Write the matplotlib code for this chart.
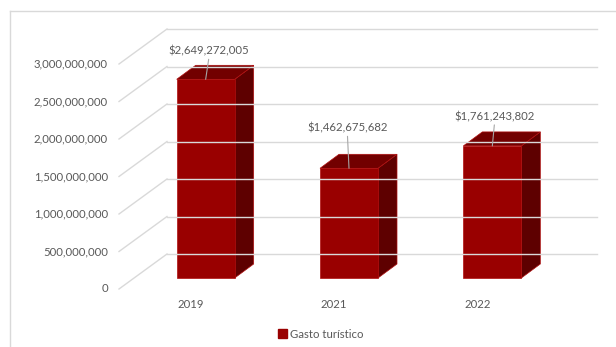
import matplotlib.pyplot as plt
from matplotlib.patches import Rectangle, Polygon
from matplotlib.lines import Line2D
from matplotlib.transforms import offset_copy

# Gasto turístico por año
years = ["2019", "2021", "2022"]
spending = [2649272005, 1462675682, 1761243802]
ticks = [0, 500000000, 1000000000, 1500000000, 2000000000, 2500000000, 3000000000]
series_name = "Gasto turístico"

FRONT = "#990000"
SIDE = "#5e0000"
TOP = "#720000"
EDGE = "#b01010"
GRID = "#d9d9d9"
TEXT = "#595959"

plt.rcParams["font.family"] = ["Lato", "DejaVu Sans"]

W, H = 616, 347
fig = plt.figure(figsize=(W / 100, H / 100), dpi=100)

# axes = front plane of the bars, in pixels
left, right, bottom, top = 134, 564, 69, 294
ax = fig.add_axes([left / W, bottom / H, (right - left) / W, (top - bottom) / H])
ax.set_xlim(-0.5, 2.5)
ax.set_ylim(0, 3e9)
ax.axis("off")

px_x = (right - left) / 3.0          # pixels per category unit
px_y = (top - bottom) / 3e9          # pixels per unit of value


def depth(dx, dy):
    """pixel offset -> data offset"""
    return dx / px_x, dy / px_y


back = depth(33, 24)     # back wall relative to bar front
front = depth(-15, -11)  # front floor edge relative to bar front
bar_d = depth(19, 14)    # bar depth

# back wall gridlines and left wall diagonals
for t in ticks:
    ax.add_line(Line2D([-0.5 + back[0], 2.5 + back[0]], [t + back[1], t + back[1]],
                       color=GRID, lw=1, clip_on=False))
    ax.add_line(Line2D([-0.5 + front[0], -0.5 + back[0]], [t + front[1], t + back[1]],
                       color=GRID, lw=1, clip_on=False))

lbl_tr = offset_copy(ax.transData, fig=fig, x=-11, y=0, units="dots")
for t in ticks:
    ax.text(-0.5 + front[0], t + front[1], f"{t:,}", transform=lbl_tr,
            ha="right", va="center", fontsize=8.2, color=TEXT)

# 3D-looking bars
w = 58 / px_x
for i, v in enumerate(spending):
    x0, x1 = i - w / 2, i + w / 2
    ax.add_patch(Polygon([(x1, 0), (x1 + bar_d[0], bar_d[1]), (x1 + bar_d[0], v + bar_d[1]), (x1, v)],
                         closed=True, fc=SIDE, ec=EDGE, lw=0.5, clip_on=False))
    ax.add_patch(Polygon([(x0, v), (x1, v), (x1 + bar_d[0], v + bar_d[1]), (x0 + bar_d[0], v + bar_d[1])],
                         closed=True, fc=TOP, ec=EDGE, lw=0.5, clip_on=False))
    ax.add_patch(Rectangle((x0, 0), w, v, fc=FRONT, ec=EDGE, lw=0.5, clip_on=False))

# category labels along the front floor edge
cat_tr = offset_copy(ax.transData, fig=fig, x=0, y=-15, units="dots")
for i, yr in enumerate(years):
    ax.text(i + front[0], front[1], yr, transform=cat_tr, ha="center", va="center",
            fontsize=8.2, color=TEXT)

# data labels with leader lines
label_off = [(3, 28), (-1.5, 40), (2, 29)]
for i, v in enumerate(spending):
    dx, dy = label_off[i]
    ax.annotate(f"${v:,}", xy=(i, v), xytext=(dx * 0.72, dy * 0.72), textcoords="offset points",
                ha="center", va="center", fontsize=8.2, color=TEXT)
    ax.annotate("", xy=(i, v), xytext=(dx * 0.72, (dy - 8) * 0.72), textcoords="offset points",
                arrowprops=dict(arrowstyle="-", color="#a6a6a6", lw=0.8, shrinkA=0, shrinkB=0))

# legend
handle = Rectangle((0, 0), 1, 1, fc=FRONT, ec=FRONT)
fig.legend([handle], [series_name], loc="center", bbox_to_anchor=(321 / W, 1 - 334 / H),
           frameon=False, fontsize=8.2, labelcolor=TEXT, handlelength=0.75, handleheight=0.75,
           handletextpad=0.3, borderpad=0)

# chart border
fig.add_artist(Line2D([10 / W, 1], [1 - 11 / H, 1 - 11 / H], color=GRID, lw=1))
fig.add_artist(Line2D([10 / W, 10 / W], [0, 1 - 11 / H], color=GRID, lw=1))

fig.savefig("out.png", dpi=100)
